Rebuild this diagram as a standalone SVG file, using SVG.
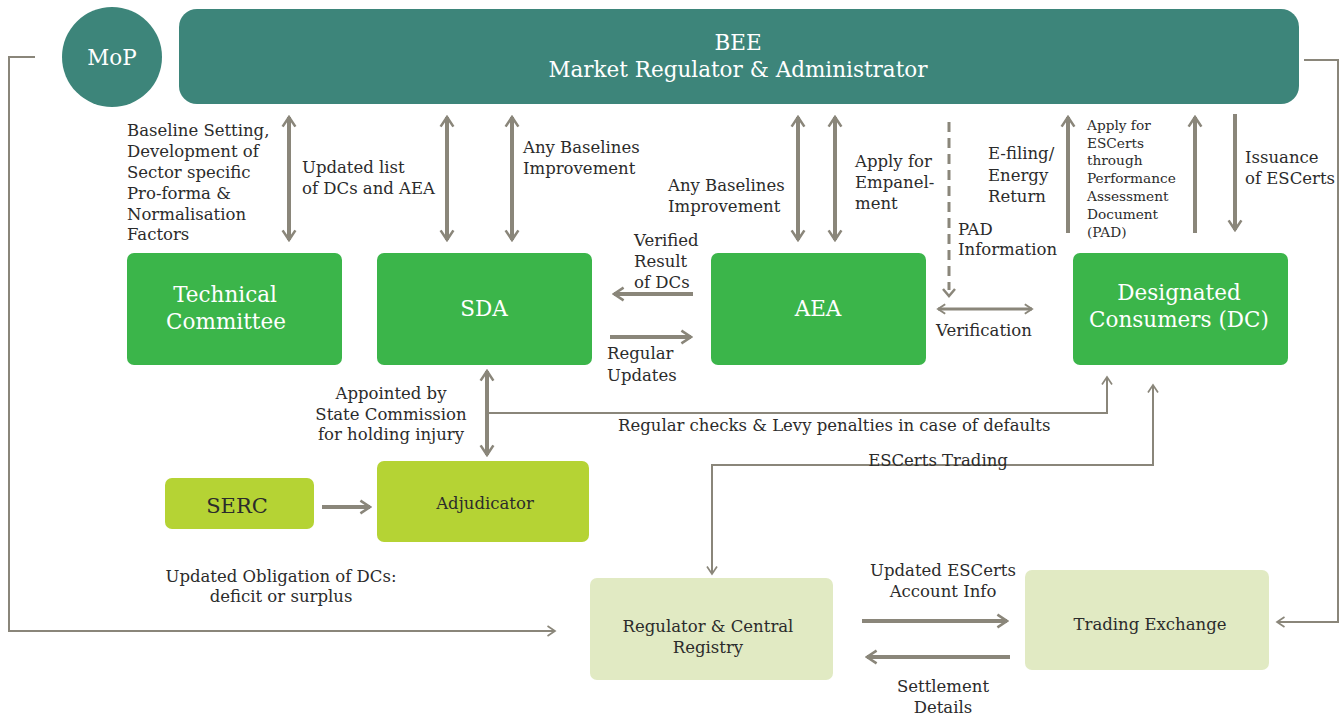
<svg xmlns="http://www.w3.org/2000/svg" width="1344" height="716" viewBox="0 0 1344 716">
<defs>
<style>
.lbl{font-family:"DejaVu Serif","Liberation Serif",serif;font-size:16.5px;fill:#2b2b2b}
.sm{font-size:13.7px}
.wt{font-family:"DejaVu Serif","Liberation Serif",serif;font-size:21.5px;fill:#ffffff;text-anchor:middle}
.dk{font-family:"DejaVu Serif","Liberation Serif",serif;fill:#2b2b2b;text-anchor:middle}
.mid{text-anchor:middle}
.thick{stroke:#8a867a;stroke-width:4;fill:none}
.thin{stroke:#8a867a;stroke-width:2;fill:none}
.green{fill:#3bb54a}
.lime{fill:#b5d334}
.pale{fill:#e1eac3}
</style>
<marker id="ah" viewBox="0 0 12 14" refX="10" refY="7" markerWidth="3.2" markerHeight="3.8" markerUnits="strokeWidth" orient="auto-start-reverse">
<path d="M1,1 L10,7 L1,13" fill="none" stroke="#8a867a" stroke-width="2.4"/>
</marker>
<marker id="ahs" viewBox="0 0 12 14" refX="10" refY="7" markerWidth="5" markerHeight="6" markerUnits="strokeWidth" orient="auto-start-reverse">
<path d="M1,1 L10,7 L1,13" fill="none" stroke="#8a867a" stroke-width="2"/>
</marker>
</defs>

<g id="connectors">
<line class="thick" x1="289" y1="117" x2="289" y2="240" marker-start="url(#ah)" marker-end="url(#ah)"/>
<line class="thick" x1="447" y1="117" x2="447" y2="240" marker-start="url(#ah)" marker-end="url(#ah)"/>
<line class="thick" x1="512" y1="117" x2="512" y2="240" marker-start="url(#ah)" marker-end="url(#ah)"/>
<line class="thick" x1="798" y1="117" x2="798" y2="240" marker-start="url(#ah)" marker-end="url(#ah)"/>
<line class="thick" x1="835" y1="117" x2="835" y2="240" marker-start="url(#ah)" marker-end="url(#ah)"/>
<line x1="949" y1="122" x2="949" y2="290" stroke="#8a867a" stroke-width="3" stroke-dasharray="10,6"/>
<path d="M943,289 L949,296 L955,289" fill="none" stroke="#8a867a" stroke-width="2.5"/>
<line x1="938" y1="309" x2="1032" y2="309" stroke="#8a867a" stroke-width="3" marker-start="url(#ah)" marker-end="url(#ah)"/>
<line class="thick" x1="1068" y1="233" x2="1068" y2="117" marker-end="url(#ah)"/>
<line class="thick" x1="1195" y1="233" x2="1195" y2="117" marker-end="url(#ah)"/>
<line class="thick" x1="1235" y1="114" x2="1235" y2="230" marker-end="url(#ah)"/>
<line class="thick" x1="693" y1="294" x2="614" y2="294" marker-end="url(#ah)"/>
<line class="thick" x1="610" y1="337" x2="691" y2="337" marker-end="url(#ah)"/>
<line class="thick" x1="487" y1="371" x2="487" y2="455" marker-start="url(#ah)" marker-end="url(#ah)"/>
<path class="thin" d="M487,413 H1107 V377" marker-end="url(#ahs)"/>
<path class="thin" d="M1153,385 V465 H712 V574" marker-end="url(#ahs)" marker-start="url(#ahs)"/>
<path class="thin" d="M1304,60 H1338 V622 H1277" marker-end="url(#ahs)"/>
<path class="thin" d="M35,57 H9 V631 H555" marker-end="url(#ahs)"/>
<line class="thick" x1="862" y1="621" x2="1007" y2="621" marker-end="url(#ah)"/>
<line class="thick" x1="1010" y1="657" x2="867" y2="657" marker-end="url(#ah)"/>
<line class="thick" x1="322" y1="507" x2="370" y2="507" marker-end="url(#ah)"/>
</g>

<g id="mop">
<circle cx="112" cy="57" r="50" fill="#3d857a"/>
<text class="wt" x="112" y="65">MoP</text>
</g>
<g id="bee">
<rect x="179" y="9" width="1120" height="95" rx="18" fill="#3d857a"/>
<text class="wt" x="738" y="50">BEE</text>
<text class="wt" x="738" y="77">Market Regulator &amp; Administrator</text>
</g>
<g id="technical-committee">
<rect class="green" x="127" y="253" width="215" height="112" rx="7"/>
<text class="wt" x="225" y="302">Technical</text>
<text class="wt" x="226" y="329">Committee</text>
</g>
<g id="sda">
<rect class="green" x="377" y="253" width="215" height="112" rx="7"/>
<text class="wt" x="484" y="316">SDA</text>
</g>
<g id="aea">
<rect class="green" x="711" y="253" width="215" height="112" rx="7"/>
<text class="wt" x="818" y="316">AEA</text>
</g>
<g id="dc">
<rect class="green" x="1073" y="253" width="215" height="112" rx="7"/>
<text class="wt" x="1179" y="300">Designated</text>
<text class="wt" x="1179" y="327">Consumers (DC)</text>
</g>
<g id="serc">
<rect class="lime" x="165" y="478" width="149" height="51" rx="7"/>
<text class="dk" x="237" y="513" font-size="21">SERC</text>
</g>
<g id="adjudicator">
<rect class="lime" x="377" y="461" width="212" height="81" rx="7"/>
<text class="dk" x="485" y="509" font-size="16.5">Adjudicator</text>
</g>
<g id="registry">
<rect class="pale" x="590" y="578" width="243" height="102" rx="7"/>
<text class="dk" x="708" y="632" font-size="16.5">Regulator &amp; Central</text>
<text class="dk" x="708" y="653" font-size="16.5">Registry</text>
</g>
<g id="trading-exchange">
<rect class="pale" x="1025" y="570" width="244" height="100" rx="7"/>
<text class="dk" x="1150" y="630" font-size="16.5">Trading Exchange</text>
</g>

<g id="labels">
<text class="lbl"><tspan x="127" y="136">Baseline Setting,</tspan><tspan x="127" y="157">Development of</tspan><tspan x="127" y="178">Sector specific</tspan><tspan x="127" y="199">Pro-forma &amp;</tspan><tspan x="127" y="220">Normalisation</tspan><tspan x="127" y="240">Factors</tspan></text>
<text class="lbl"><tspan x="302" y="173">Updated list</tspan><tspan x="302" y="194">of DCs and AEA</tspan></text>
<text class="lbl"><tspan x="523" y="153">Any Baselines</tspan><tspan x="523" y="174">Improvement</tspan></text>
<text class="lbl"><tspan x="668" y="191">Any Baselines</tspan><tspan x="668" y="212">Improvement</tspan></text>
<text class="lbl"><tspan x="855" y="167">Apply for</tspan><tspan x="855" y="188">Empanel-</tspan><tspan x="855" y="209">ment</tspan></text>
<text class="lbl"><tspan x="988" y="159">E-filing/</tspan><tspan x="988" y="181">Energy</tspan><tspan x="988" y="202">Return</tspan></text>
<text class="lbl sm"><tspan x="1087" y="130">Apply for</tspan><tspan x="1087" y="148">ESCerts</tspan><tspan x="1087" y="165">through</tspan><tspan x="1087" y="183">Performance</tspan><tspan x="1087" y="201">Assessment</tspan><tspan x="1087" y="219">Document</tspan><tspan x="1087" y="237">(PAD)</tspan></text>
<text class="lbl"><tspan x="1245" y="163">Issuance</tspan><tspan x="1245" y="184">of ESCerts</tspan></text>
<text class="lbl"><tspan x="958" y="235">PAD</tspan><tspan x="958" y="255">Information</tspan></text>
<text class="lbl"><tspan x="634" y="246">Verified</tspan><tspan x="634" y="267">Result</tspan><tspan x="634" y="288">of DCs</tspan></text>
<text class="lbl"><tspan x="607" y="359">Regular</tspan><tspan x="607" y="381">Updates</tspan></text>
<text class="lbl" x="936" y="336">Verification</text>
<text class="lbl mid"><tspan x="391" y="399">Appointed by</tspan><tspan x="391" y="420">State Commission</tspan><tspan x="391" y="440">for holding injury</tspan></text>
<text class="lbl" x="618" y="431">Regular checks &amp; Levy penalties in case of defaults</text>
<text class="lbl mid" x="938" y="466">ESCerts Trading</text>
<text class="lbl mid"><tspan x="281" y="582">Updated Obligation of DCs:</tspan><tspan x="281" y="602">deficit or surplus</tspan></text>
<text class="lbl mid"><tspan x="943" y="576">Updated ESCerts</tspan><tspan x="943" y="597">Account Info</tspan></text>
<text class="lbl mid"><tspan x="943" y="692">Settlement</tspan><tspan x="943" y="713">Details</tspan></text>
</g>
</svg>
